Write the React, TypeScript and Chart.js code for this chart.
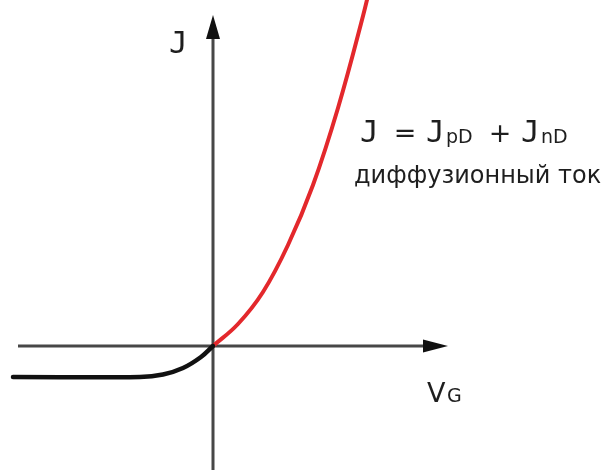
import React, { useEffect, useRef } from "react";
import { Chart, registerables } from "chart.js";

Chart.register(...registerables);

// Forward-bias branch: diffusion current J = J_pD + J_nD
const forwardV = [0, 0.25, 0.5, 0.75, 1.0, 1.25, 1.5, 1.6];
const forwardJ = [0, 0.22, 0.54, 1.01, 1.61, 2.38, 3.3, 3.72];

// Reverse-bias branch: saturation current
const reverseV = [-2.0, -0.73, -0.5, -0.3, -0.12, 0];
const reverseJ = [-0.31, -0.31, -0.285, -0.22, -0.11, 0];

// Extent of the drawn axes (data units)
const vAxisRange = [-1.95, 2.35];
const jAxisRange = [-1.24, 3.31];

const AXIS_COLOR = "#474747";
const TEXT_COLOR = "#1e1e1e";
const FONT = "'DejaVu Sans', Verdana, sans-serif";
const J_FONT = "'DejaVu Sans Mono', monospace";

const axesPlugin = {
  id: "axesArrows",
  beforeDatasetsDraw(chart: any) {
    const { ctx, scales } = chart;
    const xs = scales.x;
    const ys = scales.y;
    const x0 = xs.getPixelForValue(0);
    const y0 = ys.getPixelForValue(0);
    const xl = xs.getPixelForValue(vAxisRange[0]);
    const xr = xs.getPixelForValue(vAxisRange[1]);
    const yb = ys.getPixelForValue(jAxisRange[0]);
    const yt = ys.getPixelForValue(jAxisRange[1]);
    ctx.save();
    ctx.strokeStyle = AXIS_COLOR;
    ctx.lineWidth = 3;
    ctx.beginPath();
    ctx.moveTo(xl, y0);
    ctx.lineTo(xr - 20, y0);
    ctx.moveTo(x0, yb);
    ctx.lineTo(x0, yt + 20);
    ctx.stroke();
    ctx.fillStyle = "#111111";
    // x arrow head
    ctx.beginPath();
    ctx.moveTo(xr, y0);
    ctx.lineTo(xr - 25, y0 - 6.5);
    ctx.lineTo(xr - 25, y0 + 6.5);
    ctx.closePath();
    ctx.fill();
    // y arrow head
    ctx.beginPath();
    ctx.moveTo(x0, yt);
    ctx.lineTo(x0 - 7, yt + 24);
    ctx.lineTo(x0 + 7, yt + 24);
    ctx.closePath();
    ctx.fill();
    ctx.restore();
  },
  afterDraw(chart: any) {
    const { ctx } = chart;
    ctx.save();
    ctx.fillStyle = TEXT_COLOR;
    ctx.textBaseline = "alphabetic";
    ctx.textAlign = "left";

    // axis names
    ctx.font = `31px ${J_FONT}`;
    ctx.fillText("J", 169, 53);
    ctx.font = `27px ${FONT}`;
    ctx.fillText("V", 427, 402);
    ctx.font = `19px ${FONT}`;
    ctx.fillText("G", 447, 402);

    // formula J = J_pD + J_nD
    const base = 142;
    ctx.font = `31px ${J_FONT}`;
    ctx.fillText("J", 360, base);
    ctx.fillText("J", 426, base);
    ctx.fillText("J", 521, base);
    ctx.font = `27px ${FONT}`;
    ctx.textAlign = "center";
    ctx.fillText("=", 405, base);
    ctx.fillText("+", 500, base);
    ctx.textAlign = "left";
    ctx.font = `19px ${FONT}`;
    ctx.fillText("pD", 446, base + 1);
    ctx.fillText("nD", 541, base + 1);

    ctx.font = `24px ${FONT}`;
    ctx.fillText("диффузионный ток", 354, 183);
    ctx.restore();
  },
};

export default function App() {
  const canvasRef = useRef<HTMLCanvasElement | null>(null);

  useEffect(() => {
    if (!canvasRef.current) return;
    const chart = new Chart(canvasRef.current, {
      type: "line",
      data: {
        datasets: [
          {
            data: reverseV.map((v, i) => ({ x: v, y: reverseJ[i] })),
            borderColor: "#111111",
            borderWidth: 4.5,
            pointRadius: 0,
            tension: 0.4,
            borderCapStyle: "round",
          },
          {
            data: forwardV.map((v, i) => ({ x: v, y: forwardJ[i] })),
            borderColor: "#e3282c",
            borderWidth: 4,
            pointRadius: 0,
            tension: 0.4,
            borderCapStyle: "round",
          },
        ],
      },
      options: {
        animation: false,
        responsive: false,
        layout: { padding: 0 },
        plugins: { legend: { display: false }, tooltip: { enabled: false } },
        scales: {
          x: { type: "linear", min: -2.13, max: 3.93, display: false },
          y: { type: "linear", min: -1.28, max: 3.46, display: false },
        },
      },
      plugins: [axesPlugin],
    });
    return () => chart.destroy();
  }, []);

  return (
    <div style={{ position: "fixed", left: 0, top: 0, width: 606, height: 474, background: "#fff" }}>
      <canvas ref={canvasRef} width={606} height={474} />
    </div>
  );
}
